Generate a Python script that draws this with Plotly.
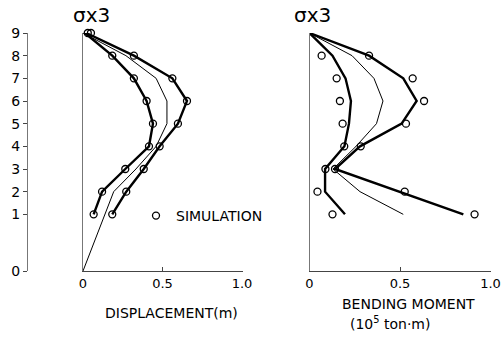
import plotly.graph_objects as go

W, H = 503, 337

# ---- data ----
floor_labels = ["0", "1", "2", "3", "4", "5", "6", "7", "8", "9"]
floor_height = [0, 2.5, 3.5, 4.5, 5.5, 6.5, 7.5, 8.5, 9.5, 10.5]  # floor 1 storey is taller

lv = floor_height[1:]          # floors 1..9
lv0 = floor_height             # floors 0..9

# displacement (m)
disp_inner_line = [0.067, 0.12, 0.266, 0.415, 0.44, 0.40, 0.32, 0.184, 0.012]
disp_outer_line = [0.184, 0.272, 0.382, 0.482, 0.597, 0.654, 0.562, 0.32, 0.02]
disp_thin_line = [0.0, 0.14, 0.193, 0.333, 0.46, 0.528, 0.528, 0.46, 0.27, 0.0]
disp_sim_inner = [0.067, 0.12, 0.266, 0.415, 0.44, 0.40, 0.32, 0.184, 0.03]
disp_sim_outer = [0.184, 0.272, 0.382, 0.482, 0.597, 0.654, 0.562, 0.32, 0.05]

# bending moment (10^5 ton.m)
bm_lv = floor_height[1:]
bm_inner_line = [0.196, 0.086, 0.086, 0.193, 0.218, 0.229, 0.199, 0.127, 0.0]
bm_outer_line = [0.850, 0.494, 0.141, 0.279, 0.509, 0.592, 0.518, 0.329, 0.0]
bm_thin_line = [0.518, 0.279, 0.130, 0.257, 0.370, 0.406, 0.356, 0.235, 0.0]
bm_sim_lv = floor_height[1:9]
bm_sim_inner = [0.127, 0.044, 0.088, 0.192, 0.183, 0.168, 0.150, 0.067]
bm_sim_outer = [0.912, 0.526, 0.141, 0.283, 0.533, 0.633, 0.570, 0.329]

x_ticks = [0, 0.5, 1.0]
x_ticktext = ["0", "0.5", "1.0"]

FONT = "DejaVu Sans"


def fx(px):
    return px / W


def fy(py):
    return 1 - py / H


fig = go.Figure()

thick = dict(color="black", width=2.4)
thin = dict(color="black", width=1.0)
mk = dict(symbol="circle-open", size=7, color="black", line=dict(width=1.3, color="black"))

# invisible trace so the floor-label axis is drawn
fig.add_trace(go.Scatter(x=[0] * len(floor_height), y=floor_height, mode="markers",
                         marker=dict(opacity=0), xaxis="x", yaxis="y3", showlegend=False,
                         hoverinfo="skip"))

# left panel
fig.add_trace(go.Scatter(x=disp_thin_line, y=lv0, mode="lines", line=thin, xaxis="x", yaxis="y",
                         showlegend=False, cliponaxis=False))
fig.add_trace(go.Scatter(x=disp_inner_line, y=lv, mode="lines", line=thick, xaxis="x", yaxis="y",
                         showlegend=False, cliponaxis=False))
fig.add_trace(go.Scatter(x=disp_outer_line, y=lv, mode="lines", line=thick, xaxis="x", yaxis="y",
                         showlegend=False, cliponaxis=False))
fig.add_trace(go.Scatter(x=disp_sim_inner, y=lv, mode="markers", marker=mk, xaxis="x", yaxis="y",
                         name="SIMULATION", showlegend=True, cliponaxis=False))
fig.add_trace(go.Scatter(x=disp_sim_outer, y=lv, mode="markers", marker=mk, xaxis="x", yaxis="y",
                         showlegend=False, cliponaxis=False))

# right panel
fig.add_trace(go.Scatter(x=bm_thin_line, y=bm_lv, mode="lines", line=thin, xaxis="x2", yaxis="y2",
                         showlegend=False, cliponaxis=False))
fig.add_trace(go.Scatter(x=bm_inner_line, y=bm_lv, mode="lines", line=thick, xaxis="x2", yaxis="y2",
                         showlegend=False, cliponaxis=False))
fig.add_trace(go.Scatter(x=bm_outer_line, y=bm_lv, mode="lines", line=thick, xaxis="x2", yaxis="y2",
                         showlegend=False, cliponaxis=False))
fig.add_trace(go.Scatter(x=bm_sim_inner, y=bm_sim_lv, mode="markers", marker=mk, xaxis="x2", yaxis="y2",
                         showlegend=False, cliponaxis=False))
fig.add_trace(go.Scatter(x=bm_sim_outer, y=bm_sim_lv, mode="markers", marker=mk, xaxis="x2", yaxis="y2",
                         showlegend=False, cliponaxis=False))

ydom = [fy(271), fy(33)]
yr = [0, 10.5]
axcol = "#444"

xcommon = dict(tickvals=x_ticks, ticktext=x_ticktext, ticks="inside", ticklen=4, tickcolor=axcol,
               showline=True, linecolor=axcol, linewidth=1, showgrid=False, zeroline=False,
               automargin=False,
               tickfont=dict(family=FONT, size=13, color="black"), fixedrange=True)
ycommon = dict(range=yr, domain=ydom, showline=True, linecolor="#777", linewidth=1, showgrid=False,
               zeroline=False, showticklabels=False, ticks="", automargin=False)


def label(text, px, py, size):
    return dict(text=text, x=fx(px), y=fy(py), xref="paper", yref="paper", showarrow=False,
                xanchor="center", yanchor="middle", font=dict(family=FONT, size=size, color="black"))


fig.update_layout(
    width=W, height=H,
    margin=dict(l=0, r=0, t=0, b=0, pad=0, autoexpand=False),
    paper_bgcolor="white", plot_bgcolor="white",
    font=dict(family=FONT, color="black"),
    xaxis=dict(domain=[fx(83), fx(243)], range=[0, 160 / 159], anchor="y", **xcommon),
    yaxis=dict(anchor="x", **ycommon),
    xaxis2=dict(domain=[fx(309.5), fx(491)], range=[0, 181.5 / 181], anchor="y2", **xcommon),
    yaxis2=dict(anchor="x2", **ycommon),
    yaxis3=dict(overlaying="y", anchor="free", position=fx(27), side="left", range=yr,
                tickvals=floor_height, ticktext=floor_labels, ticks="outside", ticklen=4,
                tickcolor=axcol, showline=True, linecolor="#777", linewidth=1, showgrid=False,
                zeroline=False, automargin=False,
                tickfont=dict(family=FONT, size=14, color="black")),
    showlegend=True,
    legend=dict(x=fx(136), y=fy(216), xanchor="left", yanchor="middle", bgcolor="rgba(0,0,0,0)",
                font=dict(family=FONT, size=14, color="black"), itemwidth=30),
    annotations=[
        label("σx3", 91, 15, 20),
        label("σx3", 312, 15, 20),
        label("DISPLACEMENT(m)", 171, 313, 14),
        label("BENDING MOMENT", 408, 304, 14),
        label("(10<sup>5</sup> ton·m)", 390, 323, 14),
    ],
)

fig.write_html("out.html")
